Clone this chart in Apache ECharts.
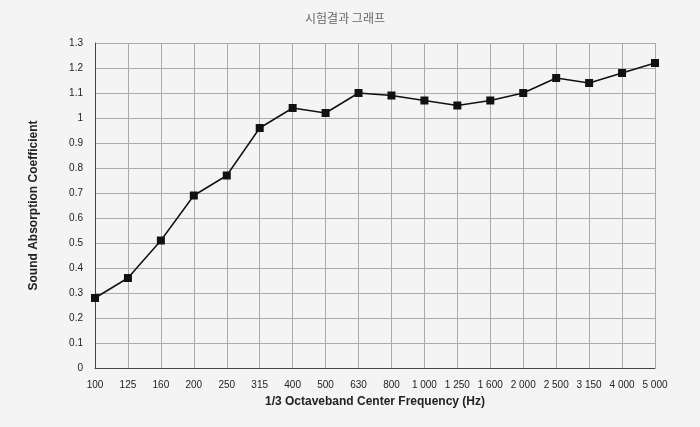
<!DOCTYPE html>
<html><head><meta charset="utf-8">
<script src="https://cdn.jsdelivr.net/npm/echarts@6/dist/echarts.min.js"></script>
<style>html,body{margin:0;padding:0;background:#f4f4f4}#c{width:700px;height:427px}</style>
</head><body><div id="c"></div>
<script>
const categories = ['100','125','160','200','250','315','400','500','630','800','1 000','1 250','1 600','2 000','2 500','3 150','4 000','5 000'];
const absorption = [0.28,0.36,0.51,0.69,0.77,0.96,1.04,1.02,1.10,1.09,1.07,1.05,1.07,1.10,1.16,1.14,1.18,1.22];
const chart = echarts.init(document.getElementById('c'));
chart.setOption({
  backgroundColor:'#f4f4f4',
  animation:false,
  title:{text:'시험결과 그래프',left:340,top:7,textAlign:'center',textStyle:{fontFamily:'Noto Sans CJK KR',fontSize:12,fontWeight:'normal',color:'#666'}},
  grid:{left:95,right:45,top:43,bottom:59},
  xAxis:{type:'category',data:categories,boundaryGap:false,
    name:'1/3 Octaveband Center Frequency (Hz)',nameLocation:'middle',nameGap:28,
    nameTextStyle:{fontFamily:'Arial',fontWeight:'bold',fontSize:12,color:'#222'},
    axisLine:{lineStyle:{color:'#444'}},axisTick:{show:false},
    axisLabel:{color:'#222',fontSize:10,margin:12,interval:0},
    splitLine:{show:true,lineStyle:{color:'#aaa'}}},
  yAxis:{type:'value',min:0,max:1.3,interval:0.1,
    name:'Sound Absorption Coefficient',nameLocation:'middle',nameGap:55,
    nameTextStyle:{fontFamily:'Arial',fontWeight:'bold',fontSize:12,color:'#222'},
    axisLine:{show:true,lineStyle:{color:'#444'}},axisTick:{show:false},
    axisLabel:{color:'#222',fontSize:10,margin:12,formatter:v=>String(+v.toFixed(1))},
    splitLine:{lineStyle:{color:'#aaa'}}},
  series:[{type:'line',data:absorption,symbol:'rect',symbolSize:8,
    lineStyle:{color:'#111',width:1.5},itemStyle:{color:'#111'}}]
});
</script></body></html>
